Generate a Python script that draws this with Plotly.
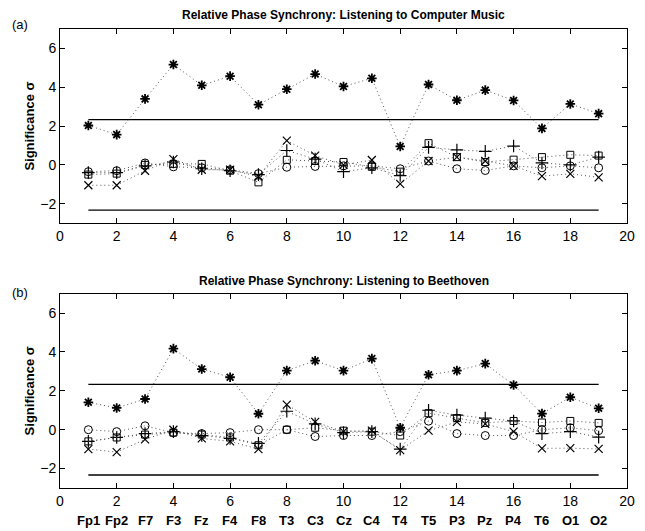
import plotly.graph_objects as go

electrodes = ["Fp1", "Fp2", "F7", "F3", "Fz", "F4", "F8", "T3", "C3", "Cz",
              "C4", "T4", "T5", "P3", "Pz", "P4", "T6", "O1", "O2"]
channel_index = list(range(1, 20))

# Panel (a): Listening to Computer Music
a_star = [2.03, 1.56, 3.40, 5.17, 4.10, 4.57, 3.10, 3.90, 4.68, 4.04,
          4.46, 0.95, 4.14, 3.33, 3.85, 3.32, 1.88, 3.14, 2.64]
a_plus = [-0.40, -0.40, -0.05, 0.15, -0.20, -0.30, -0.50, 0.74, 0.30, -0.35,
          -0.15, -0.55, 0.90, 0.77, 0.70, 0.97, 0.10, 0.00, 0.40]
a_x = [-1.05, -1.05, -0.30, 0.30, -0.25, -0.25, -0.60, 1.25, 0.48, 0.00,
       0.25, -0.98, 0.20, 0.40, 0.20, -0.05, -0.58, -0.46, -0.64]
a_square = [-0.50, -0.45, 0.00, 0.05, 0.05, -0.30, -0.90, 0.26, 0.20, 0.15,
            -0.10, -0.35, 1.12, 0.40, 0.15, 0.27, 0.40, 0.52, 0.48]
a_circle = [-0.35, -0.30, 0.10, -0.10, -0.15, -0.25, -0.45, -0.12, -0.08, -0.05,
            -0.05, -0.20, 0.20, -0.20, -0.29, -0.05, -0.15, -0.05, -0.15]

# Panel (b): Listening to Beethoven
b_star = [1.41, 1.12, 1.58, 4.17, 3.12, 2.70, 0.82, 3.04, 3.55, 3.04,
          3.66, 0.10, 2.83, 3.04, 3.40, 2.30, 0.83, 1.67, 1.10]
b_plus = [-0.60, -0.40, -0.20, -0.10, -0.30, -0.45, -0.70, 0.95, 0.30, -0.15,
          -0.10, -1.00, 1.00, 0.75, 0.60, 0.45, -0.20, -0.10, -0.38]
b_x = [-1.00, -1.15, -0.50, 0.00, -0.45, -0.60, -1.00, 1.29, 0.40, -0.10,
       -0.05, -1.05, -0.05, 0.40, 0.30, -0.10, -0.96, -0.95, -0.99]
b_square = [-0.60, -0.40, -0.25, -0.15, -0.25, -0.40, -0.80, 0.00, 0.10, -0.05,
            -0.10, -0.30, 0.85, 0.60, 0.35, 0.45, 0.37, 0.45, 0.35]
b_circle = [0.00, -0.10, 0.20, -0.15, -0.20, -0.15, 0.00, 0.00, -0.35, -0.30,
            -0.30, -0.10, 0.44, -0.20, -0.30, -0.30, 0.00, 0.10, -0.05]

threshold = 2.33
threshold_x = [1, 19]
titles = ["Relative Phase Synchrony: Listening to Computer Music",
          "Relative Phase Synchrony: Listening to Beethoven"]
panel_tags = ["(a)", "(b)"]

OFF = 8  # default page body margin
W, H = 645 - OFF, 531 - OFF
L, T = 60 - OFF, 29 - OFF
R = W - (635 - OFF)
B = H - (487.7 - OFF)


def py2paper(py_page):
    return (H - B - (py_page - OFF)) / (H - T - B)


FONT = "Liberation Sans, Arial, Helvetica, sans-serif"
fig = go.Figure()

styles = [
    ("asterisk-open", 8, 1.8),
    ("cross-thin-open", 9, 1.2),
    ("x-thin-open", 8, 1.2),
    ("square-open", 7, 1.0),
    ("circle-open", 8, 1.0),
]

panels = [
    ("x", "y", [a_star, a_plus, a_x, a_square, a_circle]),
    ("x2", "y2", [b_star, b_plus, b_x, b_square, b_circle]),
]

for xa, ya, series in panels:
    for vals, (sym, size, lw) in zip(series, styles):
        fig.add_trace(go.Scatter(
            x=channel_index, y=vals, xaxis=xa, yaxis=ya, mode="lines+markers",
            line=dict(color="#555", width=1, dash="1px,3px"),
            marker=dict(symbol=sym, size=size, color="black",
                        line=dict(color="black", width=lw)),
            showlegend=False, hoverinfo="skip"))
    for sgn in (1, -1):
        fig.add_trace(go.Scatter(
            x=threshold_x, y=[sgn * threshold] * 2, xaxis=xa, yaxis=ya,
            mode="lines", line=dict(color="black", width=1.3),
            showlegend=False, hoverinfo="skip"))

axis_common = dict(showline=True, linecolor="black", linewidth=1, mirror="ticks",
                   ticks="inside", ticklen=5, tickcolor="black", showgrid=False,
                   zeroline=False, tickfont=dict(family=FONT, size=14, color="black"))

ydom_a = [py2paper(223), 1.0]
ydom_b = [0.0, py2paper(293.5)]

fig.update_layout(
    width=W, height=H, margin=dict(l=L, r=R, t=T, b=B),
    plot_bgcolor="white", paper_bgcolor="white",
    xaxis=dict(domain=[0, 1], range=[0, 20], tickvals=list(range(0, 21, 2)),
               anchor="y", **axis_common),
    yaxis=dict(domain=ydom_a, range=[-3, 7], tickvals=[-2, 0, 2, 4, 6],
               anchor="x", title=dict(text="<b>Significance σ</b>", standoff=2,
                                      font=dict(family=FONT, size=13, color="black")),
               **axis_common),
    xaxis2=dict(domain=[0, 1], range=[0, 20], tickvals=list(range(0, 21, 2)),
                anchor="y2", **axis_common),
    yaxis2=dict(domain=ydom_b, range=[-3, 7], tickvals=[-2, 0, 2, 4, 6],
                anchor="x2", title=dict(text="<b>Significance σ</b>", standoff=2,
                                        font=dict(family=FONT, size=13, color="black")),
                **axis_common),
)

annotations = []
for title, py in zip(titles, [15, 281]):
    annotations.append(dict(text=f"<b>{title}</b>", x=0.5, y=py2paper(py),
                            xref="paper", yref="paper", showarrow=False,
                            xanchor="center", yanchor="middle",
                            font=dict(family=FONT, size=12, color="black")))
for tag, py in zip(panel_tags, [25, 292]):
    annotations.append(dict(text=tag, x=(1 - L) / (W - L - R), y=py2paper(py),
                            xref="paper", yref="paper", showarrow=False,
                            xanchor="left", yanchor="middle",
                            font=dict(family=FONT, size=13, color="black")))
for xi, name in zip(channel_index, electrodes):
    annotations.append(dict(text=f"<b>{name}</b>", x=xi, y=py2paper(520),
                            xref="x2", yref="paper", showarrow=False,
                            xanchor="center", yanchor="middle",
                            font=dict(family=FONT, size=13, color="black")))
fig.update_layout(annotations=annotations)

fig.write_html("out.html")
